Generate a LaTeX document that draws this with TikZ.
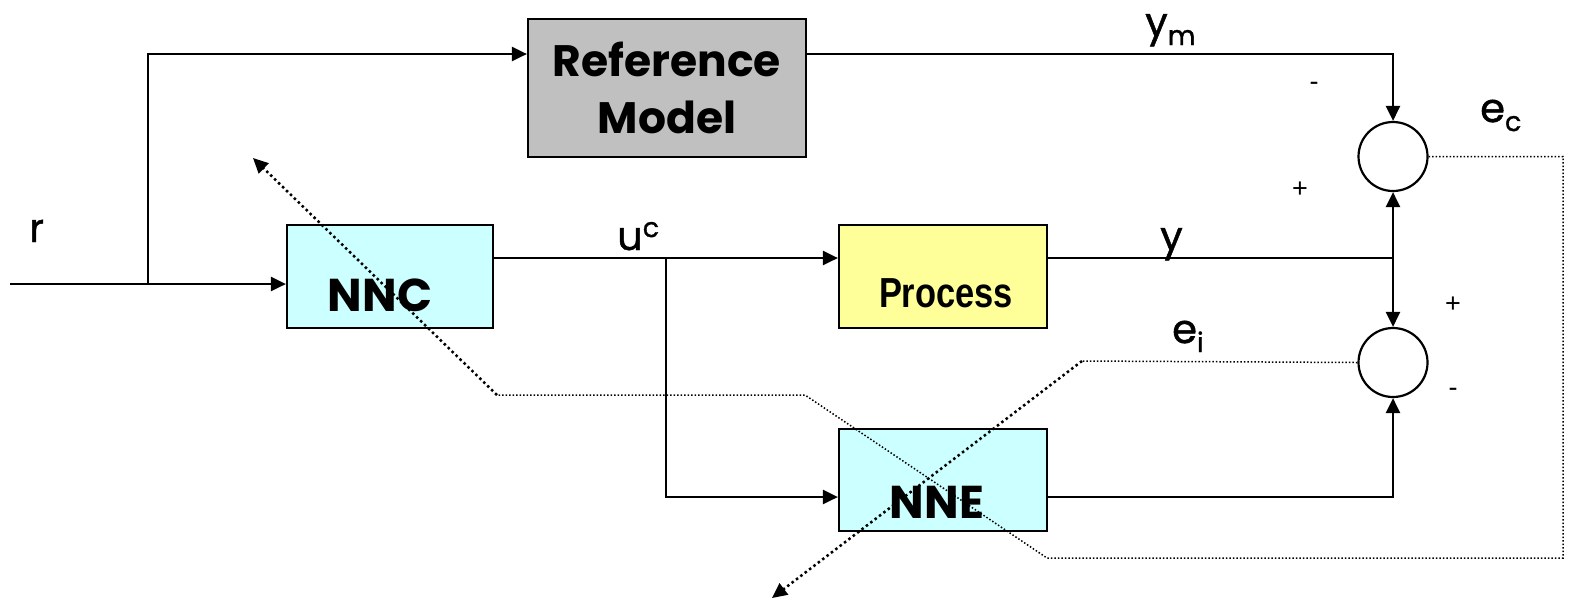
\documentclass[tikz,border=0pt]{standalone}
\usepackage{fontspec}
\setmainfont{Liberation Sans}
\newfontfamily\comic{Poppins}
\newfontfamily\comicsig[FakeBold=1.2]{Poppins}
\newfontfamily\procfont[FakeStretch=0.82]{Liberation Sans Bold}
\usetikzlibrary{arrows.meta}
% small indices for the signal names
\newcommand{\lowidx}[1]{\raisebox{-9pt}{\fontsize{27}{30}\selectfont #1}}
\newcommand{\highidx}[1]{\raisebox{13pt}{\fontsize{27}{30}\selectfont #1}}
\begin{document}
\begin{tikzpicture}[x=1pt,y=-1pt,
  block/.style={draw, line width=2.2pt, inner sep=0pt, minimum width=#1},
  block/.default=208pt,
  sumjunction/.style={draw, circle, line width=2.2pt, minimum size=69pt, inner sep=0pt},
  boxtext/.style={font=\comic\bfseries\fontsize{46}{54}\selectfont, inner sep=0pt},
  signal/.style={font=\comicsig\fontsize{40}{48}\selectfont, inner sep=0pt, anchor=base west},
  sign/.style={font=\fontsize{27}{30}\selectfont, inner sep=0pt},
  wire/.style={line width=2.4pt},
  flow/.style={wire, -{Triangle[length=15pt,width=14pt]}},
  finedots/.style={line width=1.5pt, dash pattern=on 1.5pt off 2pt},
  coarsedots/.style={line width=2.5pt, dash pattern=on 2.5pt off 3pt, -{Triangle[length=15pt,width=14pt]}},
]
\useasboundingbox (0,0) rectangle (1570,606);

% blocks
\node[block=278pt, minimum height=138pt, fill={rgb,255:red,192;green,192;blue,192}] (ref) at (667,88) {};
\node[block=206pt, minimum height=103pt, fill={rgb,255:red,204;green,255;blue,255}] (nnc) at (390,276.5) {};
\node[block, minimum height=103pt, fill={rgb,255:red,255;green,255;blue,153}] (proc) at (943,276.5) {};
\node[block, minimum height=102pt, fill={rgb,255:red,204;green,255;blue,255}] (nne) at (943,480) {};
\node[sumjunction] (sumc) at (1393,156.5) {};
\node[sumjunction] (sume) at (1393,362.5) {};

% lanes and bend points
\coordinate (toplane) at (0,54);
\coordinate (midlane) at (0,258);
\coordinate (inlane) at (0,284);
\coordinate (nnelane) at (0,497);
\coordinate (rin) at (10,284);
\coordinate (rbr) at (148,284);
\coordinate (ubr) at (666,258);

% solid signal paths
\draw[flow] (rin) -- (nnc.west |- inlane);
\draw[flow] (rbr) |- (ref.west |- toplane);
\draw[flow] (ref.east |- toplane) -| (sumc.north);
\draw[flow] (nnc.east |- midlane) -- (proc.west |- midlane);
\draw[flow] (ubr) |- (nne.west |- nnelane);
\draw[wire] (proc.east |- midlane) -- (sumc.south |- midlane) coordinate (yj);
\draw[flow] (yj) -- (sumc.south);
\draw[flow] (yj) -- (sume.north);
\draw[flow] (nne.east |- nnelane) -| (sume.south);

% error feedback paths
\coordinate (ecr) at (1563,156.5);
\coordinate (ecb) at (1563,558);
\coordinate (ecl) at (1047,558);
\coordinate (ecm) at (805,395);
\coordinate (ecs) at (497,395);
\coordinate (ect) at (253,158);
\draw[finedots] (sumc.east) -- (ecr) -- (ecb) -- (ecl) -- (ecm) -- (ecs);
\draw[coarsedots] (ecs) -- (ect);
\coordinate (eis) at (1082,361);
\coordinate (eit) at (772,598);
\draw[finedots] (sume.west) -- (eis);
\draw[coarsedots] (eis) -- (eit);

% block texts
\node[boxtext, align=center, font=\comic\bfseries\fontsize{44}{57}\selectfont] (reftext) at (667,88) {Reference\\Model};
\node[boxtext] (nnctext) at (380,295) {NNC};
\node[boxtext] (nnetext) at (937,502) {NNE};
\node[inner sep=0pt, font=\procfont\fontsize{42}{48}\selectfont] (proctext) at (946,293) {Process};

% signal names
\node[signal] (rlab) at (29,242) {r};
\node[signal] (uclab) at (617,250) {u\highidx{c}};
\node[signal] (ylab) at (1160,250) {y};
\node[signal] (ymlab) at (1145,36) {y\lowidx{m}};
\node[signal] (eclab) at (1480,122) {e\lowidx{c}};
\node[signal] (eilab) at (1172,343) {e\lowidx{i}};

% signs at the summing junctions
\node[sign] (s1) at (1314,86) {-};
\node[sign] (s2) at (1300,190) {+};
\node[sign] (s3) at (1453,305) {+};
\node[sign] (s4) at (1453,392) {-};
\end{tikzpicture}
\end{document}
